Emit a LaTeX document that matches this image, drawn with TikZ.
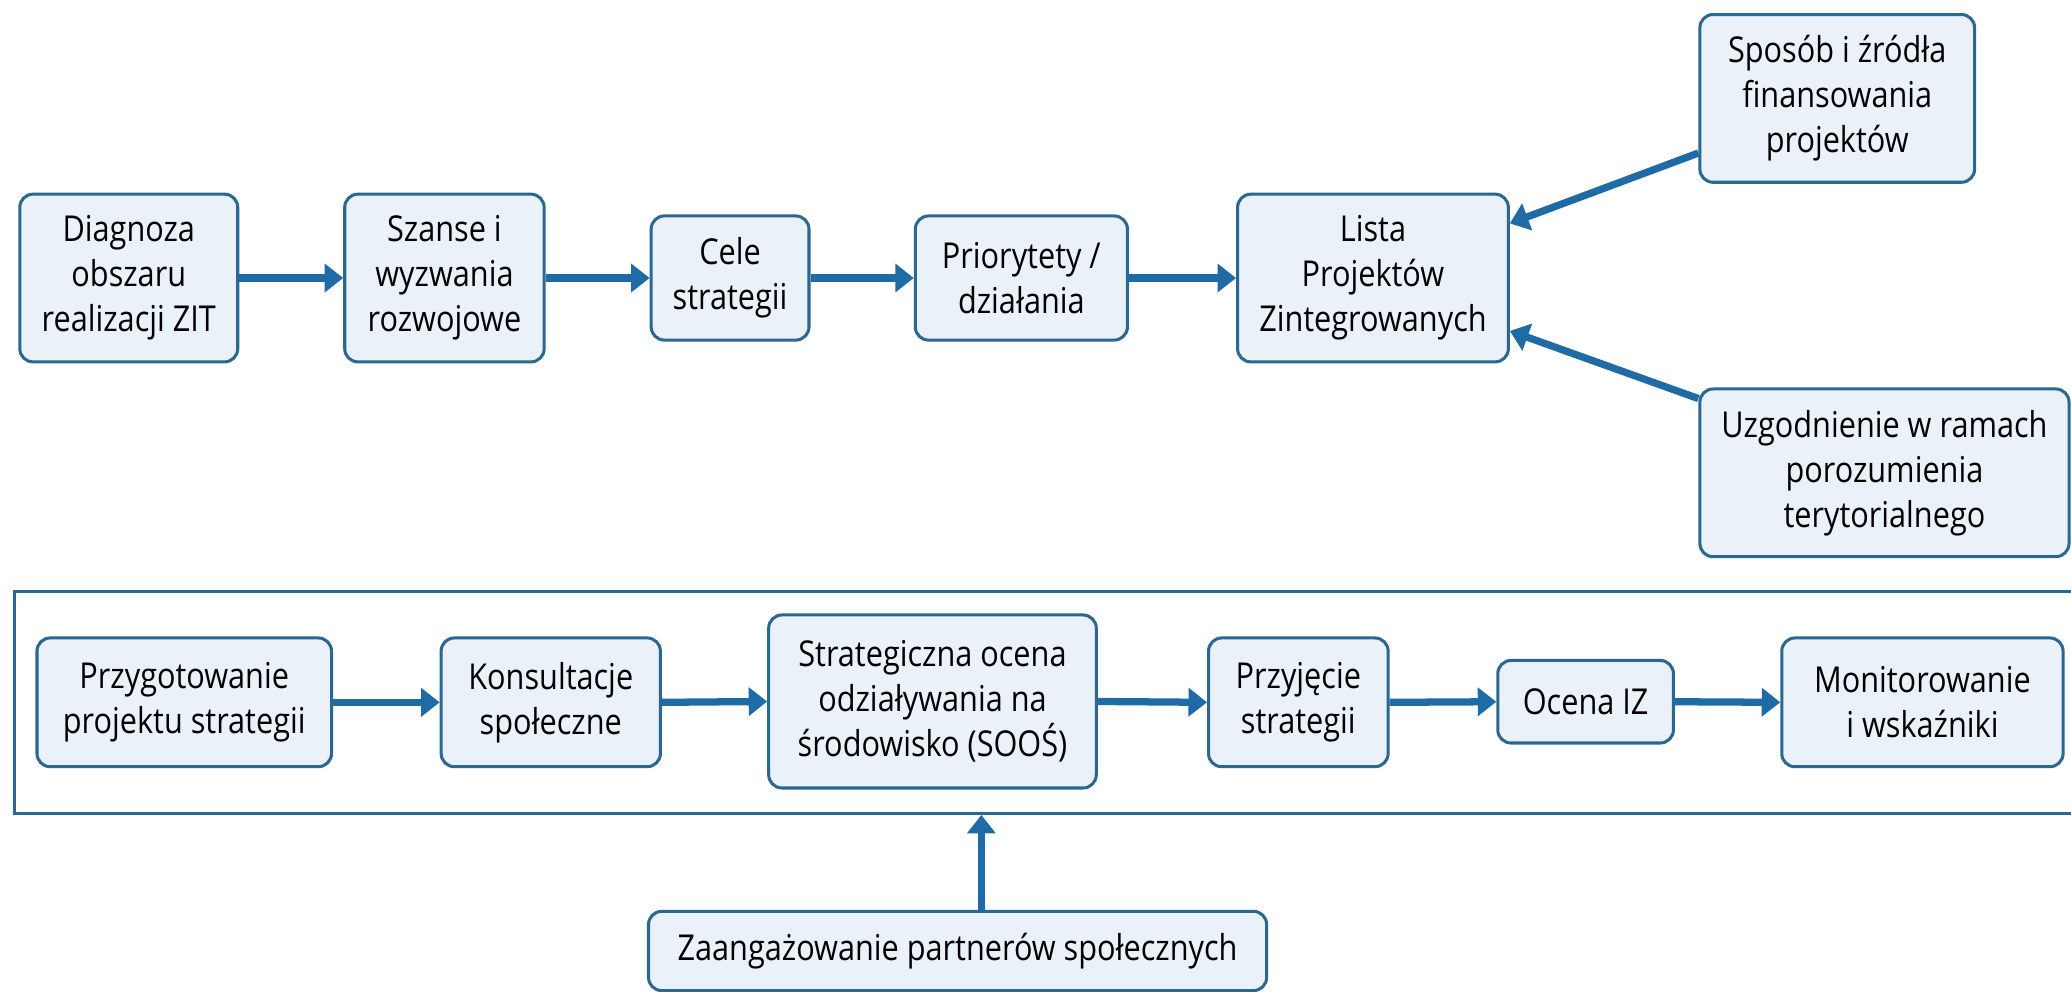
\documentclass[tikz,border=0pt]{standalone}
\usepackage{fontspec}
\setmainfont[FakeStretch=0.86]{Open Sans}
\usetikzlibrary{arrows.meta,calc}
\definecolor{bordc}{HTML}{2B6891}
\definecolor{arrc}{HTML}{1E6BA5}
\definecolor{fillc}{HTML}{EAF1F9}
\tikzset{
  box/.style={draw=bordc, line width=2.3pt, fill=fillc, rounded corners=10pt,
    align=center, inner sep=0pt, font=\fontsize{27}{34}\selectfont},
  conn/.style={draw=arrc, line width=5.5pt, -{Triangle[length=14pt,width=21pt]}},
  frameline/.style={draw=bordc, line width=2.4pt}
}
\begin{document}
\begin{tikzpicture}[x=1pt,y=1pt]
\useasboundingbox (0,0) rectangle (1568,-751);
\fill[white] (0,0) rectangle (1568,-751);
% top row
\node[box, minimum width=165pt, minimum height=127pt] (dia) at (97.5,-210.5) {Diagnoza\\obszaru\\realizacji ZIT};
\node[box, minimum width=151pt, minimum height=127pt] (sza) at (336.5,-210.5) {Szanse i\\wyzwania\\rozwojowe};
\node[box, minimum width=119.5pt, minimum height=94pt] (cel) at (552.75,-210.5) {Cele\\strategii};
\node[box, minimum width=160.6pt, minimum height=94pt] (pri) at (773.3,-210.5) {Priorytety /\\działania};
\node[box, minimum width=205pt, minimum height=127pt] (lis) at (1039.5,-210.5) {Lista\\Projektów\\Zintegrowanych};
\node[box, minimum width=208pt, minimum height=127pt] (spo) at (1391,-74.5) {Sposób i źródła\\finansowania\\projektów};
\node[box, minimum width=279.5pt, minimum height=127pt] (uzg) at (1426.75,-358) {Uzgodnienie w ramach\\porozumienia\\terytorialnego};
% frame
\draw[frameline] (1572,-448) -| (11,-615.7) -- (1572,-615.7);
\coordinate (fb) at (743,-617);
% bottom row
\node[box, minimum width=223pt, minimum height=97.5pt] (prz) at (139.5,-531.75) {Przygotowanie\\projektu strategii};
\node[box, minimum width=166pt, minimum height=97.5pt] (kon) at (417,-531.75) {Konsultacje\\społeczne};
\node[box, minimum width=248pt, minimum height=131pt] (str) at (706,-531.1) {Strategiczna ocena\\odziaływania na\\środowisko (SOOŚ)};
\node[box, minimum width=136pt, minimum height=97.5pt] (pry) at (983,-531.75) {Przyjęcie\\strategii};
\node[box, minimum width=133pt, minimum height=62.5pt] (oce) at (1200.5,-531.3) {Ocena IZ};
\node[box, minimum width=213pt, minimum height=97.5pt] (mon) at (1455.5,-531.75) {Monitorowanie\\i wskaźniki};
\node[box, minimum width=468pt, minimum height=60pt] (zaa) at (725,-720) {Zaangażowanie partnerów społecznych};
% connectors
\draw[conn] (dia.east) -- (sza.west);
\draw[conn] (sza.east) -- (cel.west);
\draw[conn] (cel.east) -- (pri.west);
\draw[conn] (pri.east) -- (lis.west);
\draw[conn] ($(spo.south west)!0.18!(spo.north west)$) -- ($(lis.north east)!0.18!(lis.south east)$);
\draw[conn] ($(uzg.north west)!0.065!(uzg.south west)$) -- ($(lis.north east)!0.81!(lis.south east)$);
\draw[conn] (prz.east) -- (kon.west);
\draw[conn] (kon.east) -- (str.west);
\draw[conn] (str.east) -- (pry.west);
\draw[conn] (pry.east) -- (oce.west);
\draw[conn] (oce.east) -- (mon.west);
\draw[conn] (zaa.north -| fb) -- (fb);
\end{tikzpicture}
\end{document}
